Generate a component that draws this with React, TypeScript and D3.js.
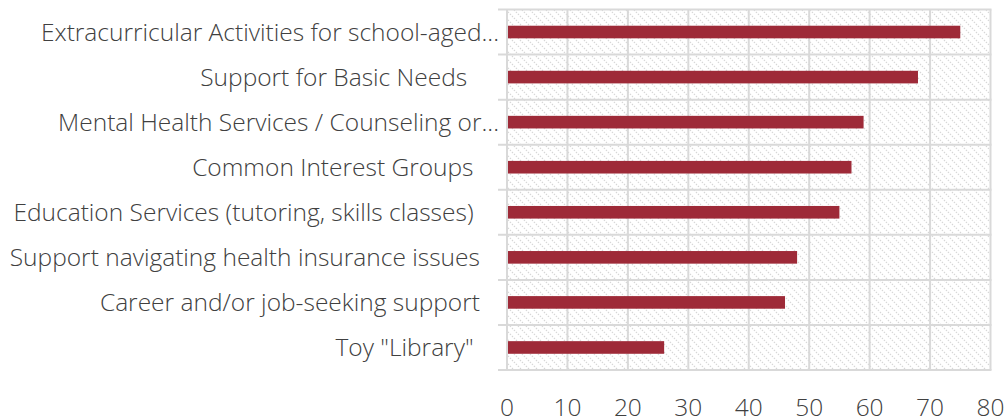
import React from "react";
import * as d3 from "d3";

const categories = [
  "Extracurricular Activities for school-aged...",
  "Support for Basic Needs     ",
  "Mental Health Services / Counseling or...",
  "Common Interest Groups    ",
  "Education Services (tutoring, skills classes)    ",
  "Support navigating health insurance issues   ",
  "Career and/or job-seeking support   ",
  'Toy "Library"    ',
];
const values = [75, 68, 59, 57, 55, 48, 46, 26];
const xTicks = [0, 10, 20, 30, 40, 50, 60, 70, 80];

const W = 1006;
const H = 419;
const left = 507;
const right = 990.5;
const top = 9.5;
const bottom = 370;

export default function App() {
  const x = d3.scaleLinear().domain([0, 80]).range([left, right]);
  const y = d3.scaleBand().domain(categories).range([top, bottom]).paddingInner(0).paddingOuter(0);
  const bw = y.bandwidth();
  const barH = bw * 0.28;
  const font = "'Segoe UI', 'Open Sans', sans-serif";
  return (
    <svg width={W} height={H} style={{ position: "absolute", left: 0, top: 0 }}>
      <defs>
        <pattern id="hatch" width="8" height="8" patternUnits="userSpaceOnUse">
          <rect width="8" height="8" fill="#ffffff" />
          <path d="M-2,-2 L10,10 M-2,6 L2,10 M6,-2 L10,2" stroke="#d6d6d6" strokeWidth="1.2" strokeDasharray="1.4,1.4" />
        </pattern>
      </defs>
      <rect x={left} y={top} width={right - left} height={bottom - top} fill="url(#hatch)" />
      {xTicks.map((t) => (
        <line key={"g" + t} x1={x(t)} x2={x(t)} y1={top} y2={bottom} stroke="#d9d9d9" strokeWidth={2} />
      ))}
      {d3.range(categories.length + 1).map((i) => {
        const yy = top + i * bw;
        return <line key={"h" + i} x1={498} x2={right + 1} y1={yy} y2={yy} stroke="#d9d9d9" strokeWidth={2} />;
      })}
      {categories.map((c, i) => (
        <rect key={"b" + i} x={x(0) + 1} y={y(c)! + bw / 2 - barH / 2} width={x(values[i]) - x(0) - 1} height={barH} fill="#9e2a38" />
      ))}
      {categories.map((c, i) => (
        <text
          key={"l" + i}
          x={499}
          y={y(c)! + bw / 2}
          dy="0.35em"
          textAnchor="end"
          fontFamily={font}
          fontWeight={300}
          fontSize={24.5}
          fill="#404040"
          style={{ whiteSpace: "pre" }}
        >
          {c}
        </text>
      ))}
      {xTicks.map((t) => (
        <text key={"t" + t} x={x(t)} y={416} textAnchor="middle" fontFamily={font} fontWeight={300} fontSize={24.5} fill="#404040">
          {t}
        </text>
      ))}
    </svg>
  );
}
